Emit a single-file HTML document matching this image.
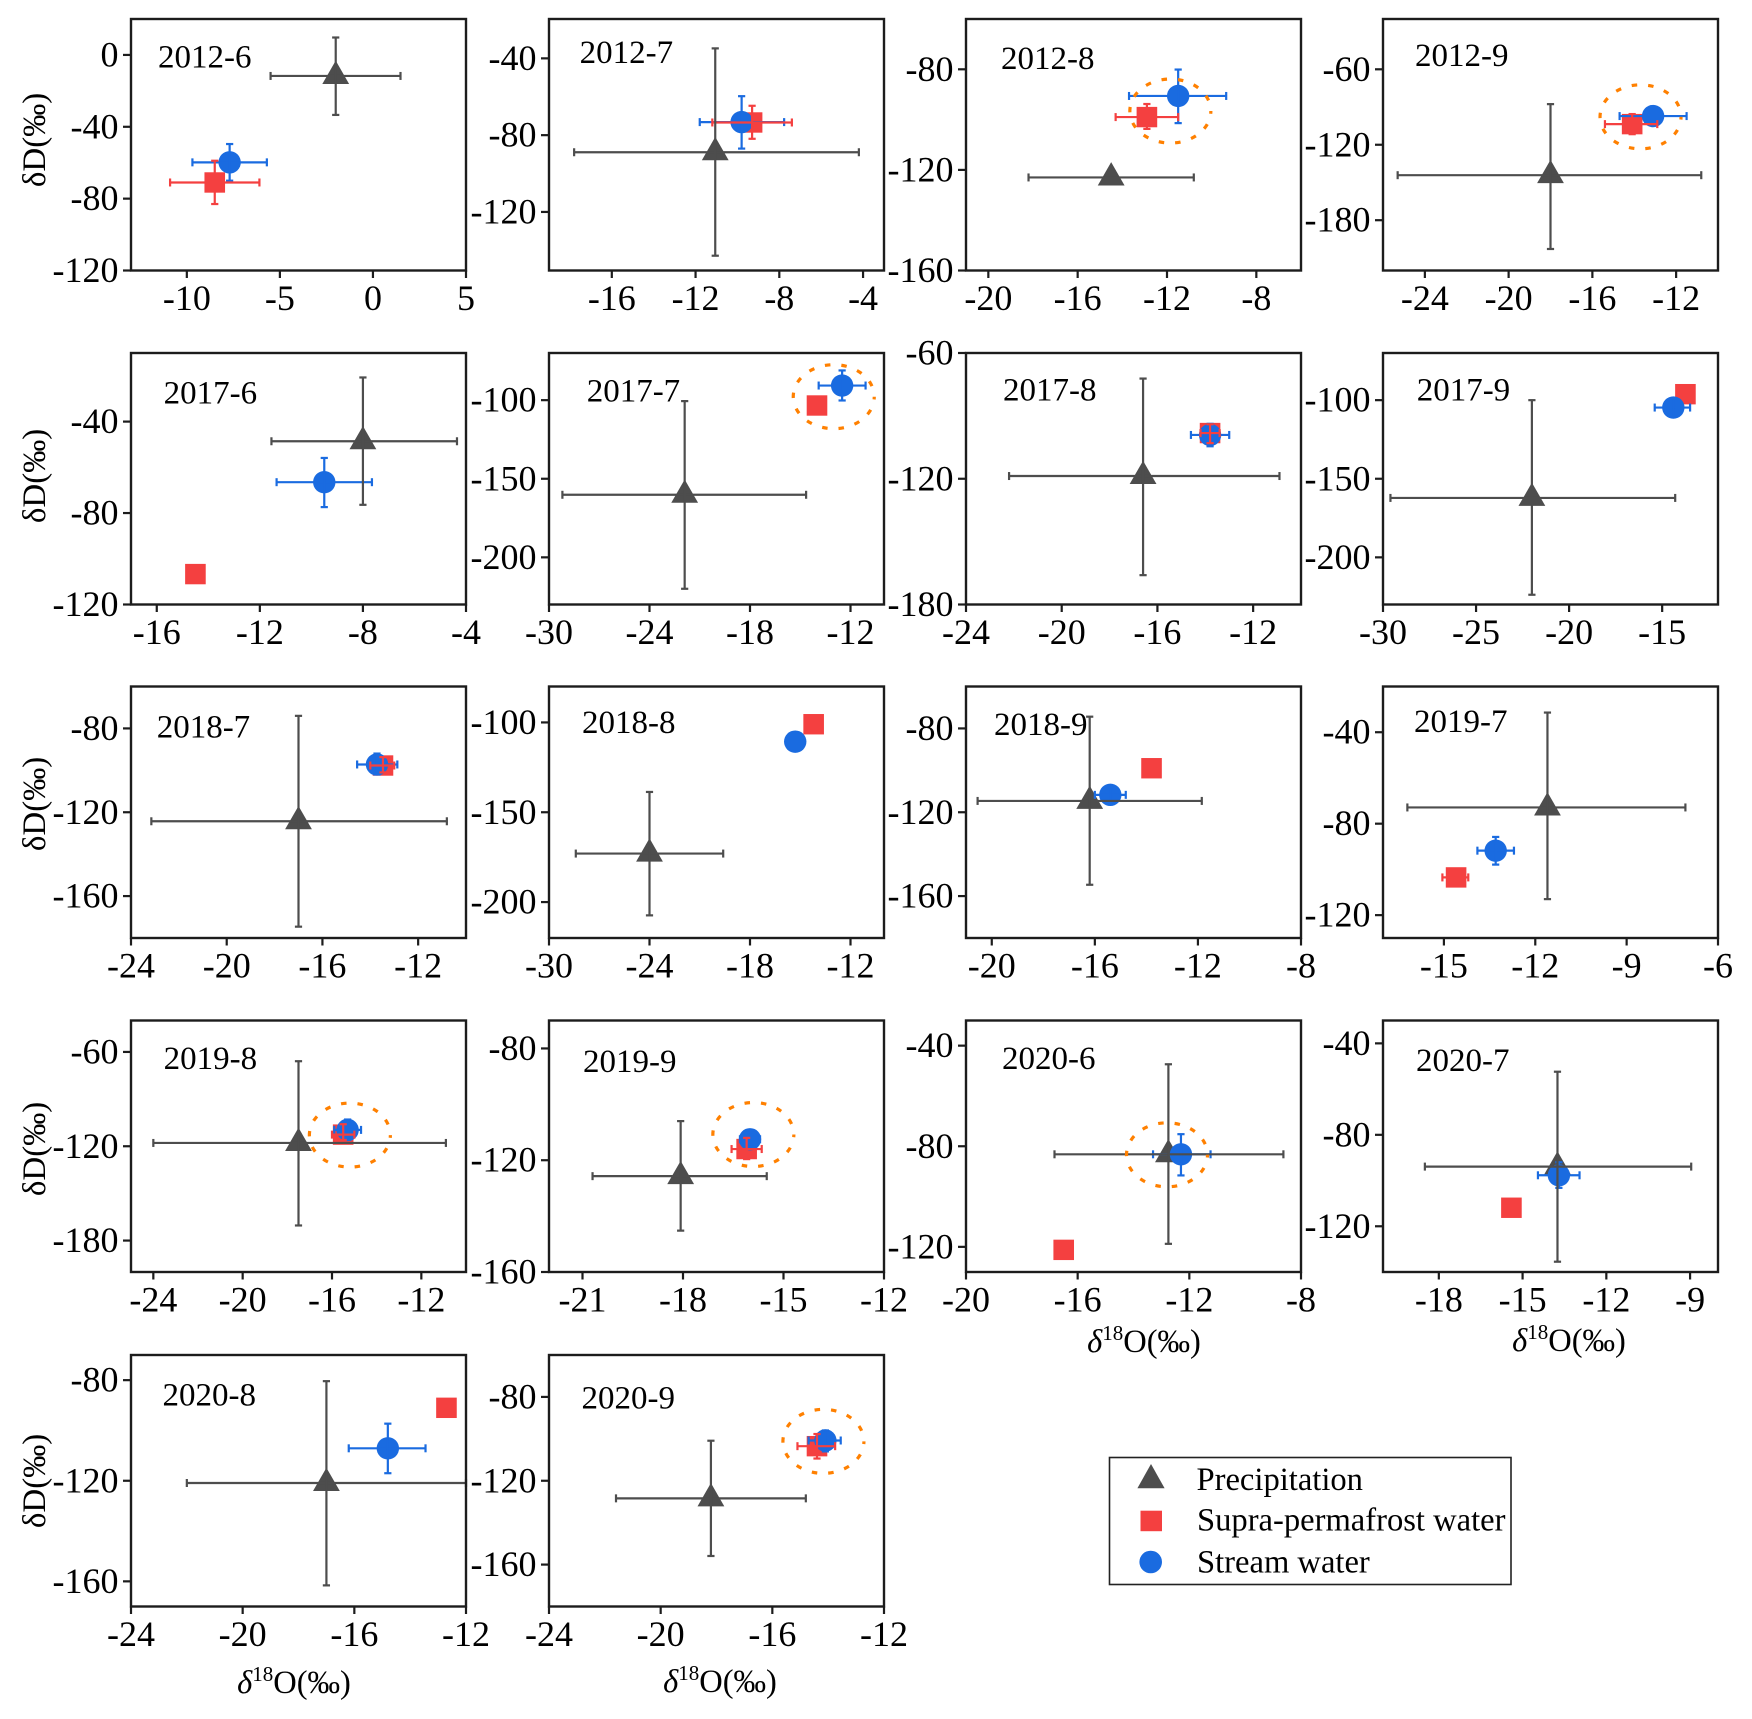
<!DOCTYPE html>
<html lang="en">
<head>
<meta charset="utf-8">
<title>Monthly isotope composition panels</title>
<style>
html,body{margin:0;padding:0;background:#fff;}
svg{display:block;}
text{font-family:"Liberation Serif","Times New Roman",serif;fill:#000;}
</style>
</head>
<body>
<svg id="chart" xmlns="http://www.w3.org/2000/svg" width="1752" height="1719" viewBox="0 0 1752 1719">
  <rect x="0" y="0" width="1752" height="1719" fill="#fff"/>
  <g id="panels"></g>
  <g id="axis-titles"></g>
  <g>
    <rect x="1109.5" y="1457.5" width="401.5" height="127" fill="#fff" stroke="#222" stroke-width="1.6"/>
    <polygon points="1151,1464 1164.6,1488.3 1137.4,1488.3" fill="#4d4d4d"/>
    <rect x="1140.5" y="1510.7" width="21.5" height="20.5" fill="#f44040"/>
    <circle cx="1150.7" cy="1562" r="11.3" fill="#1a6be0"/>
    <text x="1196.5" y="1490" font-size="32.6">Precipitation</text>
    <text x="1197" y="1530.7" font-size="32.6">Supra-permafrost water</text>
    <text x="1197" y="1572.3" font-size="32.6">Stream water</text>
  </g>
</svg>
<script>
// ---- chart data (one entry per panel) ----
const panelNames = ["2012-6","2012-7","2012-8","2012-9","2017-6","2017-7","2017-8","2017-9","2018-7","2018-8","2018-9","2019-7","2019-8","2019-9","2020-6","2020-7","2020-8","2020-9"];

const xDomains = [[-13,5],[-19,-3],[-21,-6],[-26,-10],[-17,-4],[-30,-10],[-24,-10],[-30,-12],[-24,-10],[-30,-10],[-21,-8],[-17,-6],[-25,-10],[-22,-12],[-20,-8],[-20,-8],[-24,-12],[-24,-12]];
const yDomains = [[-120,20],[-150.5,-19.5],[-160,-60],[-220,-20],[-120,-10],[-230,-70],[-180,-60],[-230,-70],[-180,-60],[-220,-80],[-180,-60],[-130,-20],[-200,-40],[-160,-70],[-130,-30],[-140,-30],[-170,-70],[-180,-60]];

const xTickLabels = [[-10,-5,0,5],[-16,-12,-8,-4],[-20,-16,-12,-8],[-24,-20,-16,-12],[-16,-12,-8,-4],[-30,-24,-18,-12],[-24,-20,-16,-12],[-30,-25,-20,-15],[-24,-20,-16,-12],[-30,-24,-18,-12],[-20,-16,-12,-8],[-15,-12,-9,-6],[-24,-20,-16,-12],[-21,-18,-15,-12],[-20,-16,-12,-8],[-18,-15,-12,-9],[-24,-20,-16,-12],[-24,-20,-16,-12]];
const yTickLabels = [[0,-40,-80,-120],[-40,-80,-120],[-80,-120,-160],[-60,-120,-180],[-40,-80,-120],[-100,-150,-200],[-60,-120,-180],[-100,-150,-200],[-80,-120,-160],[-100,-150,-200],[-80,-120,-160],[-40,-80,-120],[-60,-120,-180],[-80,-120,-160],[-40,-80,-120],[-40,-80,-120],[-80,-120,-160],[-80,-120,-160]];

const precipX     = [-2,-11.06,-14.5,-18,-8,-21.9,-16.6,-22,-17,-24,-16.2,-11.6,-17.5,-18.07,-12.75,-13.75,-17,-18.2];
const precipY     = [-11.7,-88.9,-123,-144.2,-48.6,-160.2,-118.7,-162.2,-124.3,-173,-114.6,-72.9,-117.9,-125.7,-83.2,-93.9,-120.9,-128.4];
const precipXLow  = [-5.5,-17.8,-18.2,-25.3,-11.55,-29.2,-22.2,-29.6,-23.15,-28.4,-20.55,-16.2,-24,-20.7,-16.83,-18.5,-22,-21.6];
const precipXHigh = [1.48,-4.2,-10.8,-10.8,-4.35,-14.65,-10.9,-14.3,-10.8,-19.6,-11.85,-7.07,-10.9,-15.5,-8.63,-8.96,-12,-14.8];
const precipYLow  = [-33.4,-142.8,null,-202.9,-76.4,-220,-166,-223.8,-174.6,-207.4,-154.6,-113,-170.4,-145.2,-118.8,-135.5,-161.6,-155.9];
const precipYHigh = [9.7,-34.8,null,-87.7,-20.7,-100.6,-72.2,-100,-74,-138.7,-74.4,-31.4,-65.9,-106,-47.4,-52.4,-80.4,-100.9];

const streamX     = [-7.7,-9.8,-11.5,-13.1,-9.5,-12.5,-13.8,-14.4,-13.72,-15.3,-15.4,-13.3,-15.3,-16,-12.3,-13.7,-14.8,-14.1];
const streamY     = [-59.8,-73.2,-90.6,-97.2,-66.5,-90.7,-99.1,-104.7,-97.2,-110.7,-111.7,-91.8,-109.6,-112.5,-83.2,-97.7,-107.1,-100.8];
const streamXLow  = [-9.7,-11.8,-13.7,-14.7,-11.35,-13.9,-14.6,-15.4,-14.55,null,-16,-13.9,-15.9,-16.3,-13.3,-14.45,-16.2,-14.7];
const streamXHigh = [-5.7,-7.77,-9.35,-11.5,-7.65,-11.1,-13,-13.5,-12.87,null,-14.8,-12.7,-14.7,-15.7,-11.24,-12.96,-13.45,-13.55];
const streamYLow  = [-70,-87,-101.4,-102,-77.4,-100.2,-104.5,-110,-102,null,-115,-97.9,-116,-115,-91.6,-103.2,-117,-106];
const streamYHigh = [-49.6,-59.7,-80.1,-92,-55.9,-81.1,-93.8,-99,-92,null,-108,-85.8,-103,-110,-75.2,-92,-97.3,-96];

const supraX     = [-8.5,-9.3,-12.9,-14.1,-14.5,-14,-13.8,-13.75,-13.47,-14.2,-13.8,-14.6,-15.5,-16.1,-16.5,-15.4,-12.7,-14.4];
const supraY     = [-71,-73.4,-99,-103.6,-106.7,-103.4,-98.2,-96.2,-97.7,-101,-99,-103.5,-112.6,-116,-121.2,-111.9,-91,-103.5];
const supraXLow  = [-10.9,-11.2,-14.3,-15.4,null,null,-14.2,null,-14,null,null,-15.05,-16,-16.55,null,null,null,-15.1];
const supraXHigh = [-6.1,-7.4,-11.5,-12.9,null,null,-13.4,null,-13,null,null,-14.2,-15,-15.65,null,null,null,-13.75];
const supraYLow  = [-83,-81.9,-103.7,-111.6,null,null,-103,null,-101,null,null,null,-116,-119.6,null,null,null,-109.4];
const supraYHigh = [-58.9,-64.7,-93.8,-95.6,null,null,-94,null,-93.7,null,null,null,-106,-112,null,null,null,-97.7];

const haloX = [null,null,-11.85,-13.7,null,-13,null,null,null,null,null,null,-15.2,-15.9,-12.8,null,null,-14.17];
const haloY = [null,null,-96.6,-97.8,null,-97.8,null,null,null,null,null,null,-112.9,-110.8,-83.4,null,null,-101.2];

// ---- layout ----
const colLefts = [131, 549, 966, 1383];
const rowTops = [19, 353, 686.5, 1020.5, 1355];
const frameW = 335;
const frameH = 251.5;
const titleLeft = [158,579.6,1001,1415,163.6,586.7,1003,1416.7,156.7,582,994,1414,163.6,583,1002,1416,162.5,581.5];
const titleBase = [67.7,63,69,66,403.7,401.7,400.7,400.7,737.7,733,735,732,1069,1072,1069,1071,1405.7,1408.7];
const yTitleCenters = [140,476,804,1149,1481];
const xTitleSpots = [[1144,1352],[1569,1351],[294,1693],[720,1692]];

const GRAY = "#4d4d4d", RED = "#f44040", BLUE = "#1a6be0", ORANGE = "#ff8000", INK = "#1c1c1c";
const NS = "http://www.w3.org/2000/svg";

function make(tag, attrs, parent) {
  const node = document.createElementNS(NS, tag);
  for (const k in attrs) node.setAttribute(k, attrs[k]);
  parent.appendChild(node);
  return node;
}

function scaleLinear(domain, r0, r1) {
  return v => r0 + (v - domain[0]) / (domain[1] - domain[0]) * (r1 - r0);
}

function drawErrorBars(parent, seriesName, color, px, py, xLo, xHi, yLo, yHi, sx, sy) {
  const g = make("g", {stroke: color, "stroke-width": 2.2, fill: "none"}, parent);
  
  
  const cx = sx(px), cy = sy(py);
  if (xLo !== null) {
    const segs = [[sx(xLo), cy, sx(xHi), cy], [sx(xLo), cy - 4, sx(xLo), cy + 4], [sx(xHi), cy - 4, sx(xHi), cy + 4]];
    segs.forEach(s => {
      const l = make("line", {x1: s[0], y1: s[1], x2: s[2], y2: s[3]}, g);
      
      
    });
  }
  if (yLo !== null) {
    const segs = [[cx, sy(yLo), cx, sy(yHi)], [cx - 3.6, sy(yLo), cx + 3.6, sy(yLo)], [cx - 3.6, sy(yHi), cx + 3.6, sy(yHi)]];
    segs.forEach(s => {
      const l = make("line", {x1: s[0], y1: s[1], x2: s[2], y2: s[3]}, g);
      
      
    });
  }
}

const panelsRoot = document.getElementById("panels");

panelNames.forEach((name, i) => {
  const left = colLefts[i % 4];
  const top = rowTops[Math.floor(i / 4)];
  const right = left + frameW;
  const bottom = top + frameH;
  const sx = scaleLinear(xDomains[i], left, right);
  const sy = scaleLinear(yDomains[i], bottom, top);

  const panel = make("g", {}, panelsRoot);
  
  

  // markers
  const tx = sx(precipX[i]), ty = sy(precipY[i]);
  const tri = make("polygon", {points: (tx) + "," + (ty - 15.3) + " " + (tx + 13.4) + "," + (ty + 8) + " " + (tx - 13.4) + "," + (ty + 8), fill: GRAY}, panel);
  
  

  const sq = make("rect", {x: sx(supraX[i]) - 10.3, y: sy(supraY[i]) - 10.2, width: 20.6, height: 20.4, fill: RED}, panel);
  
  

  const circ = make("circle", {cx: sx(streamX[i]), cy: sy(streamY[i]), r: 11.2, fill: BLUE}, panel);
  
  

  // error bars
  drawErrorBars(panel, 'stream', BLUE, streamX[i], streamY[i], streamXLow[i], streamXHigh[i], streamYLow[i], streamYHigh[i], sx, sy);
  drawErrorBars(panel, 'supra-permafrost', RED, supraX[i], supraY[i], supraXLow[i], supraXHigh[i], supraYLow[i], supraYHigh[i], sx, sy);
  drawErrorBars(panel, 'precipitation', GRAY, precipX[i], precipY[i], precipXLow[i], precipXHigh[i], precipYLow[i], precipYHigh[i], sx, sy);

  // highlight ellipse
  if (haloX[i] !== null) {
    const halo = make("ellipse", {cx: sx(haloX[i]), cy: sy(haloY[i]), rx: 40.5, ry: 32, fill: "none", stroke: ORANGE, "stroke-width": 3.2, "stroke-dasharray": "5.5 11", "stroke-dashoffset": 2.75}, panel);
    
    
  }

  // frame
  const frame = make("rect", {x: left, y: top, width: frameW, height: frameH, fill: "none", stroke: INK, "stroke-width": 2.4}, panel);
  
  

  // x ticks
  xTickLabels[i].forEach(v => {
    const x = sx(v);
    const tick = make("line", {x1: x, y1: bottom, x2: x, y2: bottom + 7.5, stroke: INK, "stroke-width": 2.2}, panel);
    
    
    const lab = make("text", {x: x, y: bottom + 39.3, "text-anchor": "middle", "font-size": 36}, panel);
    
    
    lab.textContent = String(v);
  });

  // y ticks
  yTickLabels[i].forEach(v => {
    const y = sy(v);
    const tick = make("line", {x1: left - 8, y1: y, x2: left, y2: y, stroke: INK, "stroke-width": 2.2}, panel);
    
    
    const lab = make("text", {x: left - 12.5, y: y + 11.5, "text-anchor": "end", "font-size": 36}, panel);
    
    
    lab.textContent = String(v);
  });

  // title
  const title = make("text", {x: titleLeft[i], y: titleBase[i], "font-size": 33}, panel);
  
  
  title.textContent = name;
});

// axis titles
const titlesRoot = document.getElementById("axis-titles");
yTitleCenters.forEach(cy => {
  const t = make("text", {transform: "translate(45," + cy + ") rotate(-90)", "text-anchor": "middle", "font-size": 33}, titlesRoot);
  
  
  t.textContent = "\u03B4D(\u2030)";
});
xTitleSpots.forEach(spot => {
  const t = make("text", {x: spot[0], y: spot[1], "text-anchor": "middle", "font-size": 32.5}, titlesRoot);
  
  
  const d = make("tspan", {"font-style": "italic"}, t);
  d.textContent = "\u03B4";
  const s = make("tspan", {"font-size": 21, dy: -12}, t);
  s.textContent = "18";
  const o = make("tspan", {dy: 12}, t);
  o.textContent = "O(\u2030)";
});
</script>
</body>
</html>
